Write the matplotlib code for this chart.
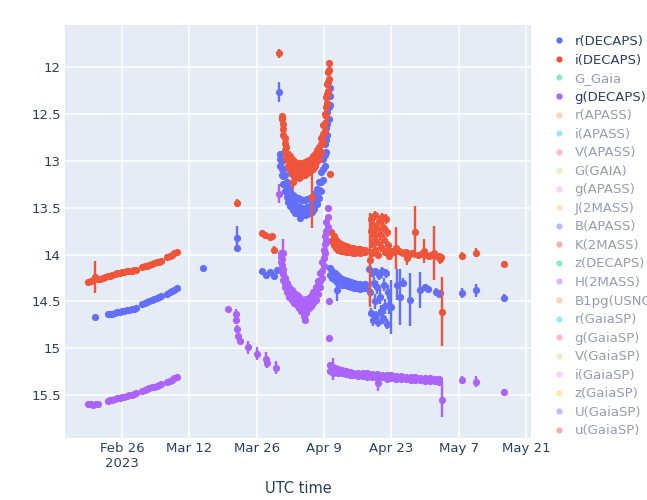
import numpy as np
import pandas as pd
import matplotlib
matplotlib.use('Agg')
import matplotlib.pyplot as plt
from matplotlib.lines import Line2D

# ---- photometry (MJD, magnitude, error) ----
# r(DECAPS)
r_mjd = [59995.4, 59998.0, 59998.5, 59999.0, 59999.5, 60000.0, 60000.5, 60001.0, 60001.5, 60002.0,
         60002.5, 60003.0, 60003.5, 60004.0, 60005.2, 60005.7, 60006.2, 60006.7, 60007.2, 60007.7,
         60008.2, 60008.7, 60009.2, 60010.4, 60010.9, 60011.4, 60011.9, 60012.4,
         60017.8, 60024.9, 60024.9, 60030.1, 60030.9, 60031.8, 60032.6, 60033.2, 60033.6, 60038.0,
         60045.7,
         60052.3, 60052.5, 60052.7, 60052.9, 60053.1, 60053.3, 60053.5, 60053.7, 60053.9, 60054.1,
         60054.3, 60054.5, 60054.7, 60054.9, 60055.1, 60055.3, 60055.5, 60055.7, 60055.9, 60056.1,
         60056.3, 60056.6, 60056.9, 60058.2, 60058.8, 60059.4, 60060.9, 60063.0, 60064.0, 60064.6,
         60066.2, 60066.8, 60067.2, 60071.7, 60074.6, 60080.4]
r_mag = [14.67, 14.64, 14.63, 14.63, 14.62, 14.61, 14.61, 14.60, 14.60, 14.59,
         14.59, 14.58, 14.58, 14.57, 14.53, 14.52, 14.51, 14.50, 14.48, 14.47,
         14.46, 14.45, 14.44, 14.42, 14.40, 14.39, 14.38, 14.36,
         14.14, 13.82, 13.93, 14.17, 14.22, 14.19, 14.23, 14.16, 12.26, 13.61,
         14.38,
         14.15, 14.40, 14.62, 14.20, 14.70, 14.30, 14.50, 14.18, 14.65, 14.35,
         14.72, 14.22, 14.45, 14.60, 14.17, 14.68, 14.32, 14.55, 14.20, 14.74,
         14.40, 14.54, 14.56, 14.32, 14.45, 14.30, 14.48, 14.38, 14.35, 14.37,
         14.40, 14.42, 14.41, 14.41, 14.38, 14.46]
r_err = [0.02, 0.02, 0.02, 0.02, 0.02, 0.02, 0.02, 0.02, 0.02, 0.02,
         0.02, 0.02, 0.02, 0.02, 0.02, 0.02, 0.02, 0.02, 0.02, 0.02,
         0.02, 0.02, 0.02, 0.02, 0.02, 0.02, 0.02, 0.02,
         0.02, 0.13, 0.02, 0.02, 0.03, 0.02, 0.02, 0.03, 0.11, 0.04,
         0.12,
         0.03, 0.12, 0.05, 0.04, 0.06, 0.06, 0.08, 0.04, 0.05, 0.07,
         0.05, 0.05, 0.08, 0.06, 0.04, 0.06, 0.07, 0.08, 0.05, 0.05,
         0.07, 0.10, 0.29, 0.17, 0.30, 0.05, 0.28, 0.19, 0.04, 0.03,
         0.04, 0.03, 0.03, 0.05, 0.07, 0.04]
# r(DECAPS) dip, several exposures per night
r_dip_mjd = [60033.9, 60034.2, 60034.5, 60034.8, 60035.2, 60035.6, 60036.0, 60036.5, 60037.0, 60037.5,
             60038.0, 60038.5, 60039.0, 60039.5, 60040.0, 60040.5, 60041.0, 60041.5, 60042.0, 60042.4,
             60042.8, 60043.1, 60043.4, 60043.7, 60044.0, 60044.3]
r_dip_hi = [12.92, 13.00, 13.08, 13.15, 13.22, 13.28, 13.32, 13.36, 13.38, 13.40, 13.41, 13.42, 13.42,
            13.41, 13.40, 13.38, 13.35, 13.30, 13.22, 13.12, 12.98, 12.82, 12.65, 12.48, 12.30, 12.22]
r_dip_mid = [12.98, 13.08, 13.16, 13.24, 13.30, 13.36, 13.40, 13.44, 13.46, 13.48, 13.49, 13.50, 13.50,
             13.49, 13.48, 13.46, 13.43, 13.38, 13.31, 13.22, 13.09, 12.94, 12.78, 12.60, 12.42, 12.31]
r_dip_lo = [13.05, 13.15, 13.25, 13.32, 13.38, 13.44, 13.48, 13.52, 13.55, 13.56, 13.57, 13.58, 13.58,
            13.57, 13.56, 13.54, 13.51, 13.46, 13.40, 13.32, 13.20, 13.05, 12.90, 12.72, 12.55, 12.40]
r_post_mjd = [60044.2, 60044.7, 60045.2, 60045.7, 60046.2, 60046.8, 60047.4, 60048.0, 60048.6, 60049.2,
              60049.8, 60050.4, 60051.0, 60051.6]
r_post_hi = [14.14, 14.17, 14.20, 14.22, 14.24, 14.26, 14.27, 14.28, 14.29, 14.30, 14.31, 14.31, 14.32, 14.31]
r_post_lo = [14.22, 14.25, 14.27, 14.29, 14.30, 14.32, 14.33, 14.34, 14.35, 14.36, 14.36, 14.37, 14.36, 14.36]

# i(DECAPS)
i_mjd = [59994.0, 59994.5, 59995.0, 59995.4, 59996.0, 59996.5, 59997.0, 59997.5, 59998.0, 59998.5,
         59999.0, 59999.5, 60000.0, 60000.5, 60001.0, 60001.5, 60002.0, 60002.5, 60003.0, 60003.5,
         60004.0, 60005.2, 60005.7, 60006.2, 60006.7, 60007.2, 60007.7, 60008.2, 60008.7, 60009.2,
         60010.4, 60010.9, 60011.4, 60011.9, 60012.4,
         60024.9, 60030.1, 60030.7, 60031.8, 60032.2, 60032.6, 60033.6, 60036.6, 60040.5, 60044.2,
         60047.4,
         60052.6, 60052.8, 60052.8, 60052.9, 60053.0, 60053.2, 60053.4, 60053.5, 60053.7, 60053.9,
         60054.0, 60054.2, 60054.4, 60054.6, 60054.8, 60055.0, 60055.2, 60055.4, 60055.6, 60055.9,
         60056.1, 60056.3, 60056.5, 60057.0, 60057.5, 60058.0, 60058.5, 60059.0, 60059.5, 60060.0,
         60060.3, 60060.8, 60061.3, 60062.0, 60062.5, 60063.2, 60063.8, 60064.3, 60064.8, 60065.3,
         60065.9, 60066.3, 60066.8, 60067.1, 60067.3, 60067.5, 60071.7, 60074.6, 60080.4]
i_mag = [14.29, 14.28, 14.27, 14.24, 14.26, 14.26, 14.25, 14.24, 14.23, 14.23,
         14.22, 14.21, 14.20, 14.20, 14.19, 14.19, 14.18, 14.17, 14.17, 14.16,
         14.16, 14.13, 14.12, 14.12, 14.11, 14.10, 14.09, 14.08, 14.08, 14.07,
         14.03, 14.01, 14.00, 13.98, 13.97,
         13.45, 13.77, 13.79, 13.81, 13.80, 13.95, 11.85, 13.22, 13.38, 13.14,
         13.95,
         14.06, 13.62, 13.75, 13.88, 13.98, 13.68, 13.80, 13.95, 13.58, 13.72,
         13.86, 14.00, 13.64, 13.78, 13.92, 13.60, 13.70, 13.84, 13.97, 13.62,
         13.76, 13.90, 14.02, 13.96, 13.97, 13.93, 13.96, 13.97, 13.98, 13.97,
         14.04, 13.99, 13.98, 13.76, 14.00, 13.99, 13.96, 14.00, 14.01, 14.00,
         13.98, 14.02, 14.01, 14.05, 14.03, 14.61, 14.01, 13.98, 14.10]
i_err = [0.02, 0.02, 0.02, 0.17, 0.02, 0.02, 0.02, 0.02, 0.02, 0.02,
         0.02, 0.02, 0.02, 0.02, 0.02, 0.02, 0.02, 0.02, 0.02, 0.02,
         0.02, 0.02, 0.02, 0.02, 0.02, 0.02, 0.02, 0.02, 0.02, 0.02,
         0.02, 0.02, 0.02, 0.02, 0.02,
         0.04, 0.02, 0.02, 0.02, 0.02, 0.04, 0.05, 0.08, 0.34, 0.03,
         0.05,
         0.50, 0.05, 0.06, 0.05, 0.04, 0.06, 0.05, 0.04, 0.05, 0.06,
         0.05, 0.04, 0.05, 0.06, 0.05, 0.05, 0.06, 0.05, 0.04, 0.05,
         0.05, 0.05, 0.04, 0.03, 0.03, 0.22, 0.03, 0.03, 0.03, 0.03,
         0.07, 0.03, 0.03, 0.28, 0.03, 0.03, 0.13, 0.03, 0.03, 0.03,
         0.29, 0.03, 0.03, 0.05, 0.03, 0.37, 0.04, 0.05, 0.03]
i_dip_mjd = [60034.3, 60034.5, 60034.8, 60035.1, 60035.5, 60035.9, 60036.3, 60036.7, 60037.1, 60037.5,
             60037.9, 60038.3, 60038.7, 60039.1, 60039.5, 60039.9, 60040.3, 60040.7, 60041.1, 60041.5,
             60042.0, 60042.4, 60042.8, 60043.1, 60043.4, 60043.6, 60043.8, 60044.0]
i_dip_hi = [12.52, 12.60, 12.75, 12.85, 12.92, 12.95, 12.98, 13.00, 13.02, 13.03, 13.02, 13.03, 13.02, 13.01,
            13.00, 12.99, 12.98, 12.95, 12.92, 12.88, 12.85, 12.75, 12.62, 12.50, 12.32, 12.18, 12.05, 11.95]
i_dip_mid = [12.54, 12.66, 12.81, 12.92, 12.98, 13.03, 13.06, 13.08, 13.10, 13.09, 13.10, 13.09, 13.08, 13.08,
             13.06, 13.05, 13.04, 13.01, 12.98, 12.94, 12.91, 12.82, 12.71, 12.59, 12.42, 12.28, 12.15, 12.03]
i_dip_lo = [12.55, 12.72, 12.88, 12.98, 13.05, 13.10, 13.14, 13.16, 13.17, 13.15, 13.18, 13.16, 13.14, 13.15,
            13.13, 13.12, 13.10, 13.08, 13.05, 13.00, 12.98, 12.90, 12.80, 12.68, 12.52, 12.38, 12.25, 12.12]
i_post_mjd = [60044.5, 60045.0, 60045.5, 60046.0, 60046.5, 60047.0, 60047.5, 60048.0, 60048.5, 60049.0,
              60049.5, 60050.0, 60050.5, 60051.0, 60051.5]
i_post_hi = [13.76, 13.80, 13.84, 13.87, 13.89, 13.90, 13.91, 13.92, 13.93, 13.93, 13.94, 13.94, 13.94, 13.95, 13.95]
i_post_lo = [13.85, 13.90, 13.93, 13.95, 13.96, 13.96, 13.97, 13.97, 13.97, 13.98, 13.98, 13.97, 13.98, 13.97, 13.97]

# g(DECAPS)
g_mjd = [59994.0, 59994.5, 59995.0, 59995.5, 59996.0,
         59998.0, 59998.5, 59999.0, 59999.5, 60000.0, 60000.5, 60001.0, 60001.5, 60002.0, 60002.5,
         60003.0, 60003.5, 60004.0,
         60005.2, 60005.7, 60006.2, 60006.7, 60007.2, 60007.7, 60008.2, 60008.7, 60009.2, 60010.4,
         60010.9, 60011.4, 60011.9, 60012.4,
         60023.1, 60024.8, 60024.8, 60024.9, 60025.1, 60025.5, 60027.1, 60029.0, 60030.9, 60031.2,
         60033.0, 60033.6, 60034.4, 60039.0, 60044.1, 60044.1, 60044.9, 60054.2, 60067.5,
         60071.7, 60074.6, 60080.4]
g_mag = [15.60, 15.60, 15.61, 15.60, 15.60,
         15.56, 15.55, 15.55, 15.54, 15.53, 15.53, 15.52, 15.52, 15.51, 15.50,
         15.50, 15.49, 15.48,
         15.46, 15.45, 15.44, 15.43, 15.42, 15.41, 15.40, 15.39, 15.38, 15.36,
         15.35, 15.34, 15.32, 15.31,
         14.58, 14.63, 14.70, 14.79, 14.87, 14.92, 14.99, 15.06, 15.12, 15.16,
         15.21, 13.35, 13.98, 14.70, 14.50, 14.89, 15.22, 15.37, 15.55,
         15.34, 15.36, 15.47]
g_err = [0.02, 0.02, 0.02, 0.02, 0.02,
         0.02, 0.02, 0.02, 0.02, 0.02, 0.02, 0.02, 0.02, 0.02, 0.02,
         0.02, 0.02, 0.02,
         0.02, 0.02, 0.02, 0.02, 0.02, 0.02, 0.02, 0.02, 0.02, 0.02,
         0.02, 0.02, 0.02, 0.02,
         0.03, 0.05, 0.04, 0.04, 0.05, 0.04, 0.07, 0.07, 0.08, 0.05,
         0.07, 0.10, 0.15, 0.03, 0.02, 0.02, 0.12, 0.09, 0.19,
         0.04, 0.06, 0.03]
g_dip_mjd = [60034.0, 60034.2, 60034.5, 60034.9, 60035.3, 60035.8, 60036.3, 60036.8, 60037.3, 60037.8,
             60038.3, 60038.8, 60039.3, 60039.8, 60040.3, 60040.8, 60041.3, 60041.8, 60042.2, 60042.6,
             60042.9, 60043.2, 60043.5, 60043.8]
g_dip_hi = [13.98, 14.05, 14.15, 14.25, 14.30, 14.35, 14.38, 14.41, 14.43, 14.45, 14.47, 14.48,
            14.47, 14.46, 14.44, 14.40, 14.35, 14.28, 14.20, 14.08, 13.95, 13.80, 13.65, 13.50]
g_dip_mid = [14.03, 14.11, 14.21, 14.30, 14.35, 14.40, 14.43, 14.46, 14.49, 14.51, 14.53, 14.56,
             14.55, 14.52, 14.50, 14.46, 14.42, 14.35, 14.28, 14.17, 14.04, 13.89, 13.75, 13.60]
g_dip_lo = [14.08, 14.18, 14.27, 14.35, 14.40, 14.45, 14.48, 14.52, 14.54, 14.57, 14.60, 14.66,
            14.62, 14.57, 14.55, 14.52, 14.48, 14.42, 14.35, 14.25, 14.12, 13.98, 13.85, 13.70]
g_post_mjd = [60044.3, 60044.8, 60045.3, 60046.0, 60046.7, 60047.5, 60048.3, 60049.1, 60050.0, 60051.0,
              60052.0, 60053.0, 60054.0, 60055.0, 60056.0, 60057.0, 60058.0, 60059.0, 60060.0, 60061.0,
              60062.0, 60063.0, 60064.0, 60065.0, 60066.0, 60067.0]
g_post_hi = [15.18, 15.20, 15.21, 15.22, 15.23, 15.24, 15.25, 15.26, 15.26, 15.27, 15.27, 15.28, 15.28,
             15.29, 15.29, 15.29, 15.30, 15.30, 15.31, 15.31, 15.31, 15.32, 15.32, 15.32, 15.33, 15.33]
g_post_lo = [15.24, 15.26, 15.25, 15.27, 15.27, 15.28, 15.29, 15.29, 15.30, 15.30, 15.31, 15.31, 15.32,
             15.31, 15.33, 15.32, 15.33, 15.33, 15.33, 15.34, 15.34, 15.34, 15.35, 15.35, 15.35, 15.36]
dense_err = 0.025  # typical error of the densely sampled nights

legend_names = ['r(DECAPS)', 'i(DECAPS)', 'G_Gaia', 'g(DECAPS)', 'r(APASS)', 'i(APASS)', 'V(APASS)',
                'G(GAIA)', 'g(APASS)', 'J(2MASS)', 'B(APASS)', 'K(2MASS)', 'z(DECAPS)', 'H(2MASS)',
                'B1pg(USNO)', 'r(GaiaSP)', 'g(GaiaSP)', 'V(GaiaSP)', 'i(GaiaSP)', 'z(GaiaSP)',
                'U(GaiaSP)', 'u(GaiaSP)']
shown = ['r(DECAPS)', 'i(DECAPS)', 'g(DECAPS)']

palette = ['#636EFA', '#EF553B', '#00CC96', '#AB63FA', '#FFA15A', '#19D3F3', '#FF6692',
           '#B6E880', '#FF97FF', '#FECB52']
text_col = '#2a3f5f'


def to_time(mjd):
    return pd.to_datetime(np.asarray(mjd, dtype=float) - 40587.0, unit='D').to_numpy()


def band(mjd, mag, err, dip_mjd, dip_rows, post_mjd, post_rows):
    t = list(mjd)
    m = list(mag)
    e = list(err)
    for row in dip_rows:
        t += dip_mjd
        m += row
        e += [dense_err] * len(row)
    for row in post_rows:
        t += post_mjd
        m += row
        e += [dense_err] * len(row)
    return to_time(t), np.array(m), np.array(e)


series = {
    'r(DECAPS)': band(r_mjd, r_mag, r_err, r_dip_mjd, [r_dip_hi, r_dip_mid, r_dip_lo],
                      r_post_mjd, [r_post_hi, r_post_lo]),
    'i(DECAPS)': band(i_mjd, i_mag, i_err, i_dip_mjd, [i_dip_hi, i_dip_mid, i_dip_lo],
                      i_post_mjd, [i_post_hi, i_post_lo]),
    'g(DECAPS)': band(g_mjd, g_mag, g_err, g_dip_mjd, [g_dip_hi, g_dip_mid, g_dip_lo],
                      g_post_mjd, [g_post_hi, g_post_lo]),
}

fig = plt.figure(figsize=(6.47, 5.0), dpi=100)
ax = fig.add_axes([65 / 647, 62 / 500, 466 / 647, 413 / 500])
ax.set_facecolor('#E5ECF6')
for s in ax.spines.values():
    s.set_visible(False)
ax.grid(True, color='white', lw=1.1)
ax.set_axisbelow(True)

for k, name in enumerate(legend_names):
    if name not in shown:
        continue
    t, m, e = series[name]
    ax.errorbar(t, m, yerr=e, fmt='o', color=palette[k % 10], ms=5.2, mew=0,
                elinewidth=1.7, capsize=4, capthick=1.7, zorder=2 + k)

ax.set_xlim(to_time([59989.15])[0], to_time([60086.03])[0])
ax.set_ylim(15.96, 11.546)
ax.set_yticks([12, 12.5, 13, 13.5, 14, 14.5, 15, 15.5])
ax.set_yticklabels(['12', '12.5', '13', '13.5', '14', '14.5', '15', '15.5'])
tick_mjd = [60001, 60015, 60029, 60043, 60057, 60071, 60085]
tick_lab = ['Feb 26\n2023', 'Mar 12', 'Mar 26', 'Apr 9', 'Apr 23', 'May 7', 'May 21']
ax.set_xticks(to_time(tick_mjd))
ax.set_xticklabels(tick_lab)
ax.tick_params(length=0, pad=3, labelsize=9.5, labelcolor=text_col)
ax.set_xlabel('UTC time', fontsize=10.5, color=text_col, labelpad=8)

handles = []
for k, name in enumerate(legend_names):
    a = 1.0 if name in shown else 0.45
    handles.append(Line2D([], [], marker='o', ls='', color=palette[k % 10], ms=4.5, mew=0, alpha=a))
leg = ax.legend(handles, legend_names, loc='upper left', bbox_to_anchor=(552 / 647, 1 - 35 / 500),
                bbox_transform=fig.transFigure, frameon=False, fontsize=9.5, borderpad=0,
                borderaxespad=0, handlelength=1.0, handletextpad=0.7, labelspacing=0.42)
for txt, name in zip(leg.get_texts(), legend_names):
    txt.set_color(text_col)
    if name not in shown:
        txt.set_alpha(0.5)

fig.savefig('out.png', dpi=100)
